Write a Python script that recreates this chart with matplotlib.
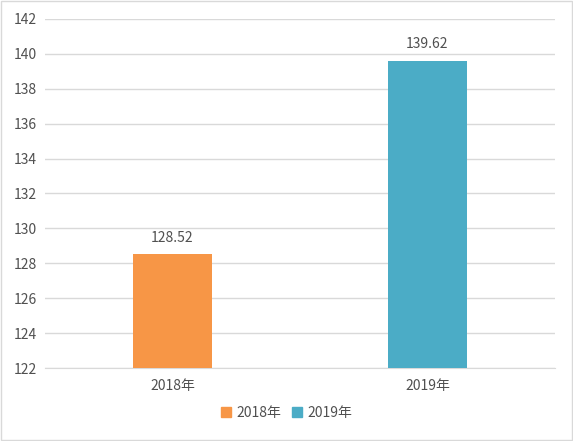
import matplotlib
matplotlib.use("Agg")
import matplotlib.pyplot as plt
from matplotlib.patches import Rectangle

plt.rcParams["font.family"] = ["Noto Sans CJK SC", "DejaVu Sans"]

categories = ["2018年", "2019年"]
values = [128.52, 139.62]
colors = ["#F79646", "#4BACC6"]
yticks = list(range(122, 143, 2))
TEXT = "#505050"

fig = plt.figure(figsize=(5.73, 4.41), dpi=100)
ax = fig.add_axes([0.0785, 0.1655, 0.89, 0.7915])

x = [0, 1]
bars = ax.bar(x, values, width=0.31, color=colors, zorder=3)
ax.set_xlim(-0.5, 1.5)
ax.set_ylim(122, 142)
ax.set_yticks(yticks)
ax.set_xticks(x)
ax.set_xticklabels(categories)
ax.tick_params(axis="both", length=0, colors=TEXT, labelsize=10)
ax.tick_params(axis="x", pad=8)
ax.tick_params(axis="y", pad=6)
ax.grid(axis="y", color="#D9D9D9", linewidth=1, zorder=0)
for s in ["top", "right", "left"]:
    ax.spines[s].set_visible(False)
ax.spines["bottom"].set_color("#D9D9D9")

for xi, v in zip(x, values):
    ax.annotate(f"{v:.2f}", (xi, v), xytext=(0, 7), textcoords="offset points",
                ha="center", va="bottom", fontsize=10, color=TEXT)

handles = [Rectangle((0, 0), 1, 1, color=c) for c in colors]
fig.legend(handles, categories, loc="center", bbox_to_anchor=(0.5, 0.063),
           ncol=2, frameon=False, fontsize=10, labelcolor=TEXT,
           handlelength=0.7, handleheight=0.7, handletextpad=0.4, columnspacing=0.8)

fig.patches.append(Rectangle((0.002, 0.002), 0.996, 0.996, transform=fig.transFigure,
                             fill=False, edgecolor="#D9D9D9", linewidth=1))

fig.savefig("out.png", dpi=100)
